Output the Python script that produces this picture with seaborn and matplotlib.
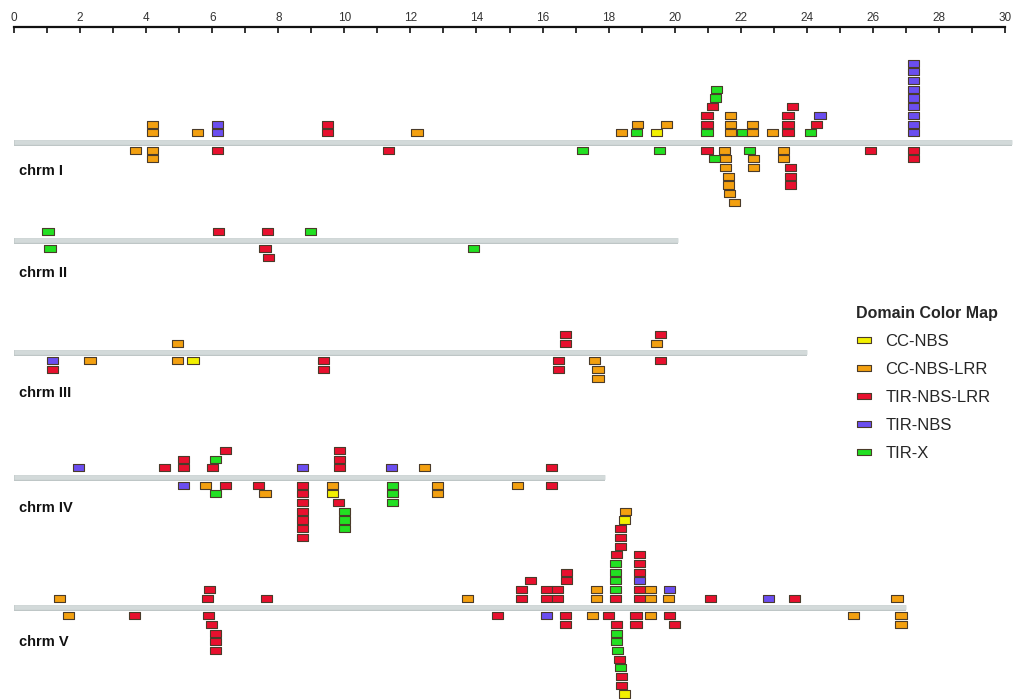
# NBS-LRR gene positions along the five chromosomes, coloured by domain class

import matplotlib.pyplot as plt
import pandas as pd
import seaborn as sns
from matplotlib.lines import Line2D
from matplotlib.path import Path

chrom_names = ["chrm I", "chrm II", "chrm III", "chrm IV", "chrm V"]
chrom_len = [30.2, 20.1, 24.0, 17.9, 27.0]  # Mb

domains = ["CC-NBS", "CC-NBS-LRR", "TIR-NBS-LRR", "TIR-NBS", "TIR-X"]
domain_colors = ["#f2f000", "#f3a010", "#e8102e", "#6b4ef0", "#22e022"]
dom_code = {"Y": "CC-NBS", "O": "CC-NBS-LRR", "R": "TIR-NBS-LRR",
            "B": "TIR-NBS", "G": "TIR-X"}

ruler_ticks = list(range(0, 31, 2))

# (position in Mb, stack level: + above / - below the chromosome, domain code)
chr1_genes = [
    (3.67, -1, "O"),
    (4.18, 1, "O"), (4.18, 2, "O"), (4.2, -1, "O"), (4.2, -2, "O"),
    (5.55, 1, "O"),
    (6.15, 1, "B"), (6.15, 2, "B"), (6.15, -1, "R"),
    (9.48, 1, "R"), (9.48, 2, "R"),
    (11.33, -1, "R"),
    (12.2, 1, "O"),
    (17.2, -1, "G"),
    (18.4, 1, "O"),
    (18.85, 1, "G"), (18.88, 2, "O"),
    (19.45, 1, "Y"), (19.55, -1, "G"), (19.75, 2, "O"),
    (20.98, 1, "G"), (20.98, 2, "R"), (20.98, 3, "R"), (21.15, 4, "R"),
    (21.24, 5, "G"), (21.27, 6, "G"),
    (20.98, -1, "R"), (21.2, -2, "G"),
    (21.7, 1, "O"), (21.7, 2, "O"), (21.7, 3, "O"),
    (21.5, -1, "O"), (21.55, -2, "O"), (21.55, -3, "O"), (21.64, -4, "O"),
    (21.64, -5, "O"), (21.67, -6, "O"), (21.8, -7, "O"),
    (22.05, 1, "G"),
    (22.35, 1, "O"), (22.35, 2, "O"),
    (22.27, -1, "G"), (22.38, -2, "O"), (22.38, -3, "O"),
    (22.96, 1, "O"),
    (23.43, 1, "R"), (23.43, 2, "R"), (23.43, 3, "R"), (23.58, 4, "R"),
    (23.29, -1, "O"), (23.29, -2, "O"),
    (23.52, -3, "R"), (23.52, -4, "R"), (23.52, -5, "R"),
    (24.12, 1, "G"), (24.3, 2, "R"), (24.4, 3, "B"),
    (25.94, -1, "R"),
    (27.22, 1, "B"), (27.22, 2, "B"), (27.22, 3, "B"), (27.22, 4, "B"),
    (27.22, 5, "B"), (27.22, 6, "B"), (27.22, 7, "B"), (27.22, 8, "B"),
    (27.22, 9, "B"),
    (27.22, -1, "R"), (27.22, -2, "R"),
]

chr2_genes = [
    (1.03, 1, "G"), (1.09, -1, "G"),
    (6.18, 1, "R"),
    (7.67, 1, "R"), (7.6, -1, "R"), (7.7, -2, "R"),
    (8.97, 1, "G"),
    (13.9, -1, "G"),
]

chr3_genes = [
    (1.17, -1, "B"), (1.17, -2, "R"),
    (2.3, -1, "O"),
    (4.95, 1, "O"), (4.95, -1, "O"), (5.42, -1, "Y"),
    (9.36, -1, "R"), (9.36, -2, "R"),
    (16.7, 1, "R"), (16.7, 2, "R"),
    (16.48, -1, "R"), (16.48, -2, "R"),
    (17.58, -1, "O"), (17.68, -2, "O"), (17.68, -3, "O"),
    (19.45, 1, "O"), (19.58, 2, "R"), (19.58, -1, "R"),
]

chr4_genes = [
    (1.94, 1, "B"),
    (4.55, 1, "R"),
    (5.12, 1, "R"), (5.12, 2, "R"), (5.12, -1, "B"),
    (6.0, 1, "R"), (6.09, 2, "G"), (6.4, 3, "R"),
    (5.79, -1, "O"), (6.4, -1, "R"), (6.09, -2, "G"),
    (7.39, -1, "R"), (7.6, -2, "O"),
    (8.73, 1, "B"),
    (8.73, -1, "R"), (8.73, -2, "R"), (8.73, -3, "R"), (8.73, -4, "R"),
    (8.73, -5, "R"), (8.73, -6, "R"), (8.73, -7, "R"),
    (9.85, 1, "R"), (9.85, 2, "R"), (9.85, 3, "R"),
    (9.64, -1, "O"), (9.64, -2, "Y"), (9.82, -3, "R"),
    (10.0, -4, "G"), (10.0, -5, "G"), (10.0, -6, "G"),
    (11.42, 1, "B"),
    (11.45, -1, "G"), (11.45, -2, "G"), (11.45, -3, "G"),
    (12.42, 1, "O"),
    (12.82, -1, "O"), (12.82, -2, "O"),
    (15.24, -1, "O"),
    (16.27, 1, "R"), (16.27, -1, "R"),
]

chr5_genes = [
    (1.39, 1, "O"), (1.64, -1, "O"),
    (3.64, -1, "R"),
    (5.85, 1, "R"), (5.91, 2, "R"),
    (5.88, -1, "R"), (5.97, -2, "R"), (6.09, -3, "R"), (6.09, -4, "R"),
    (6.09, -5, "R"),
    (7.64, 1, "R"),
    (13.73, 1, "O"),
    (14.64, -1, "R"),
    (15.36, 1, "R"), (15.36, 2, "R"), (15.64, 3, "R"),
    (16.12, 1, "R"), (16.12, 2, "R"),
    (16.45, 1, "R"), (16.45, 2, "R"),
    (16.73, 3, "R"), (16.73, 4, "R"),
    (16.12, -1, "B"),
    (16.7, -1, "R"), (16.7, -2, "R"),
    (17.64, 1, "O"), (17.64, 2, "O"),
    (17.51, -1, "O"),
    (18.0, -1, "R"),
    (18.2, 1, "R"),
    (18.21, 2, "G"), (18.21, 3, "G"), (18.21, 4, "G"), (18.21, 5, "G"),
    (18.24, 6, "R"),
    (18.36, 7, "R"), (18.36, 8, "R"), (18.36, 9, "R"),
    (18.48, 10, "Y"), (18.52, 11, "O"),
    (18.24, -2, "R"), (18.24, -3, "G"), (18.24, -4, "G"), (18.27, -5, "G"),
    (18.33, -6, "R"), (18.36, -7, "G"), (18.39, -8, "R"), (18.39, -9, "R"),
    (18.48, -10, "Y"),
    (18.94, 1, "R"), (18.94, 2, "R"), (18.94, 3, "B"), (18.94, 4, "R"),
    (18.94, 5, "R"), (18.94, 6, "R"),
    (18.83, -1, "R"), (18.83, -2, "R"),
    (19.27, 1, "O"), (19.27, 2, "O"), (19.27, -1, "O"),
    (19.8, 1, "O"), (19.85, 2, "B"),
    (19.85, -1, "R"), (20.0, -2, "R"),
    (21.08, 1, "R"),
    (22.85, 1, "B"),
    (23.64, 1, "R"),
    (25.42, -1, "O"),
    (26.73, 1, "O"),
    (26.85, -1, "O"), (26.85, -2, "O"),
]

all_genes = [chr1_genes, chr2_genes, chr3_genes, chr4_genes, chr5_genes]

# layout (page pixel rows)
line_y = [141.5, 240, 352, 476.5, 607]
label_dy = [29, 33, 41, 31, 35]
level_step = 8.7

rows = []
for name, base, genes in zip(chrom_names, line_y, all_genes):
    for pos, lvl, code in genes:
        rows.append({"chrom": name, "pos": pos, "level": lvl,
                     "domain": dom_code[code], "y": base - lvl * level_step})
df = pd.DataFrame(rows)

sns.set_style("white")
plt.rcParams["font.family"] = ["Liberation Sans", "DejaVu Sans"]

fig = plt.figure(figsize=(10.14, 7.0), dpi=100)
ax = fig.add_axes([14 / 1014, 0, (1005 - 14) / 1014, (700 - 27) / 700])
ax.set_xlim(0, 30)
ax.set_ylim(700, 27)

# chromosome bars
for name, base, length, dy in zip(chrom_names, line_y, chrom_len, label_dy):
    ax.plot([0, length], [base + 1, base + 1], color="#b9c2c2", lw=4.2,
            solid_capstyle="butt", zorder=1, clip_on=False)
    ax.plot([0, length], [base, base], color="#d3dada", lw=3.4,
            solid_capstyle="butt", zorder=1, clip_on=False)
    ax.text(0.15, base + dy, name, fontsize=10.5, fontweight="bold",
            va="center", ha="left", color="#111111")

box = Path([(-11, -7), (11, -7), (11, 7), (-11, 7), (-11, -7)], closed=True)
sns.scatterplot(data=df, x="pos", y="y", hue="domain", hue_order=domains,
                palette=domain_colors, marker=box, s=64, edgecolor="#4a3b2a",
                linewidth=0.8, legend=False, ax=ax, zorder=3, clip_on=False)

# ruler on top
for side in ["left", "right", "bottom"]:
    ax.spines[side].set_visible(False)
ax.spines["top"].set_linewidth(1.6)
ax.spines["top"].set_color("#111111")
ax.xaxis.set_ticks_position("top")
ax.set_xticks(ruler_ticks)
ax.set_xticks(range(0, 31), minor=True)
ax.set_xticklabels([str(t) for t in ruler_ticks])
ax.tick_params(axis="x", which="both", direction="in", length=4.5, width=1.2,
               colors="#111111", top=True, bottom=False)
ax.tick_params(axis="x", which="major", pad=2, labelsize=8.5,
               labelcolor="#333333")
ax.set_yticks([])
ax.set_xlabel("")
ax.set_ylabel("")

# legend
swatch = Path([(-15, -7), (15, -7), (15, 7), (-15, 7), (-15, -7)], closed=True)
handles = [Line2D([], [], marker=swatch, markersize=10.5, linestyle="none",
                  markerfacecolor=c, markeredgecolor="#4a3b2a",
                  markeredgewidth=0.8) for c in domain_colors]
ax.legend(handles, domains, title="Domain Color Map", loc="upper left",
          bbox_to_anchor=(856 / 1014, 1 - 306 / 700),
          bbox_transform=fig.transFigure, frameon=False, fontsize=12,
          title_fontproperties={"weight": "bold", "size": 11.5},
          alignment="left", handlelength=1.0, handletextpad=0.75,
          labelspacing=0.78, borderpad=0, borderaxespad=0)

fig.savefig("out.png", dpi=100)
plt.close(fig)
